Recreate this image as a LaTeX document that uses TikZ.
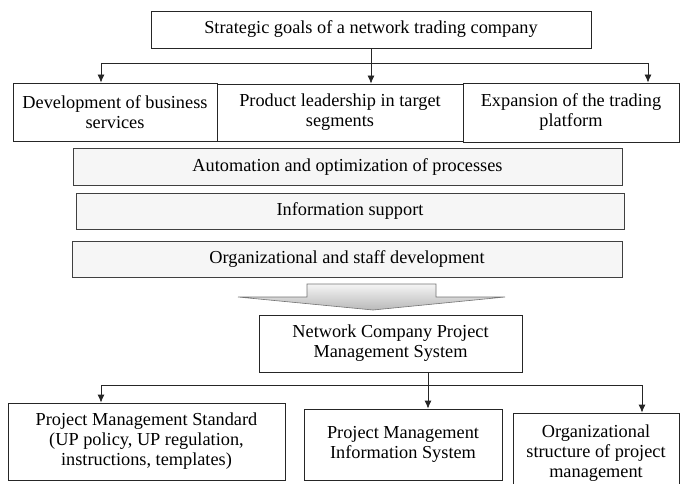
\documentclass[tikz,border=0pt]{standalone}
\usepackage{fontspec}
\setmainfont{Liberation Serif}
\usetikzlibrary{arrows.meta}
\tikzset{
  goalbox/.style={draw=black!85, line width=0.8pt, align=center,
    font=\fontsize{18.3}{20}\selectfont, inner sep=0pt},
  areabox/.style={goalbox, fill=gray!7, draw=black!75, line width=1pt},
  link/.style={draw=black!85, line width=0.8pt},
  linkarr/.style={link, -{Latex[length=8pt,width=7pt]}},
}
\begin{document}
\begin{tikzpicture}[x=1pt,y=-1pt]
    \useasboundingbox (0,0) rectangle (680,484);

    % Strategic goals and their three directions
    \node[goalbox, minimum width=440pt, minimum height=37pt] (goal) at (371,29.5)
        {Strategic goals of a network trading company};
    \node[goalbox, minimum width=204pt, minimum height=58pt] (dev) at (115,112)
        {Development of business\\services};
    \node[goalbox, minimum width=246pt, minimum height=57pt] (lead) at (340,112.5)
        {Product leadership in target\\segments};
    \node[goalbox, minimum width=216pt, minimum height=59pt] (expand) at (571,112.5)
        {Expansion of the trading\\platform};

    % Goals split into the three directions
    \coordinate (splitl) at (101,63);
    \coordinate (splitr) at (648,63);
    \draw[linkarr] (goal.south) -- (goal.south |- lead.north);
    \draw[link] (splitl) -- (splitr);
    \draw[linkarr] (splitl) -- (splitl |- dev.north);
    \draw[linkarr] (splitr) -- (splitr |- expand.north);

    % Supporting areas
    \node[areabox, minimum width=549pt, minimum height=36pt] (auto) at (347.5,167)
        {Automation and optimization of processes};
    \node[areabox, minimum width=548pt, minimum height=36pt] (info) at (350,211)
        {Information support};
    \node[areabox, minimum width=550pt, minimum height=36pt] (staff) at (347,259)
        {Organizational and staff development};

    % Big arrow down to the management system
    \draw[draw=black!55, line width=0.6pt, top color=gray!8, bottom color=gray!55]
        (307,284) -- (436,284) -- (436,297) -- (505,297) -- (373,310)
        -- (238,297) -- (307,297) -- cycle;

    % Project management system and its parts
    \node[goalbox, minimum width=263pt, minimum height=57pt] (pms) at (390.5,343.5)
        {Network Company Project\\Management System};
    \node[goalbox, minimum width=277pt, minimum height=77pt] (std) at (146.5,441.5)
        {Project Management Standard\\(UP policy, UP regulation,\\instructions, templates)};
    \node[goalbox, minimum width=198pt, minimum height=71pt] (pmis) at (403,444.5)
        {Project Management\\Information System};
    \node[goalbox, minimum width=166pt, minimum height=80pt] (orgstr) at (596,453)
        {Organizational\\structure of project\\management};

    % System split into its three parts
    \coordinate (fork) at (428,385);
    \coordinate (forkl) at (101,385);
    \coordinate (forkr) at (642,385);
    \draw[linkarr] (fork |- pms.south) -- (fork |- pmis.north);
    \draw[link] (forkl) -- (forkr);
    \draw[linkarr] (forkl) -- (forkl |- std.north);
    \draw[linkarr] (forkr) -- (forkr |- orgstr.north);
\end{tikzpicture}
\end{document}
